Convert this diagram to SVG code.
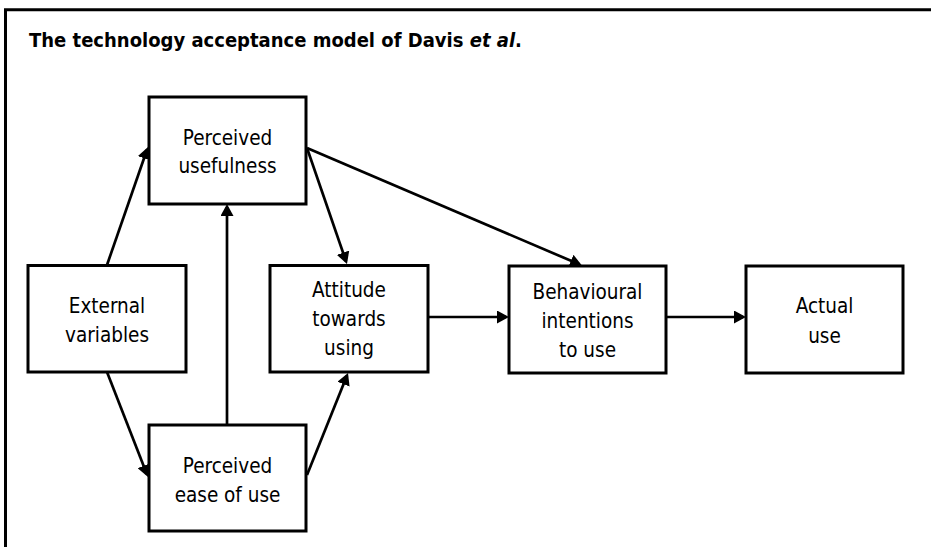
<svg xmlns="http://www.w3.org/2000/svg" width="931" height="547" viewBox="0 0 931 547">
<style>
  .frame { fill: none; stroke: #000; stroke-width: 3; }
  .box { fill: #fff; stroke: #000; stroke-width: 3; }
  .lbl { font-family: 'DejaVu Sans Condensed', 'DejaVu Sans', sans-serif; font-stretch: condensed; font-size: 20.5px; fill: #000; text-anchor: middle; }
  .title { font-family: 'DejaVu Sans Condensed', 'DejaVu Sans', sans-serif; font-stretch: condensed; font-size: 20px; font-weight: bold; fill: #000; }
  .conn line { stroke: #000; stroke-width: 2.7; fill: none; marker-end: url(#arrow); }
</style>
<defs>
  <marker id="arrow" markerUnits="userSpaceOnUse" markerWidth="13" markerHeight="13" refX="9" refY="6.5" orient="auto">
    <path d="M0,0 L12,6.5 L0,13 z" fill="#000"/>
  </marker>
</defs>
<rect width="931" height="547" fill="#fff"/>
<path class="frame" d="M5.5,547 V9.7 H931"/>
<text class="title" x="29" y="47">The technology acceptance model of Davis <tspan font-style="italic">et al</tspan>.</text>

<g id="connectors" class="conn">
  <line x1="107" y1="265" x2="147" y2="149.8"/>
  <line x1="227" y1="425" x2="227" y2="207"/>
  <line x1="307" y1="148" x2="346" y2="261.2"/>
  <line x1="307" y1="148" x2="579.2" y2="264.3"/>
  <line x1="107" y1="372" x2="146.9" y2="474.2"/>
  <line x1="307" y1="475" x2="346.9" y2="375.8"/>
  <line x1="428" y1="317" x2="506" y2="317"/>
  <line x1="666" y1="317" x2="743" y2="317"/>
</g>

<g id="perceived-usefulness">
  <rect class="box" x="149" y="97" width="157" height="107"/>
  <text class="lbl" x="227.5" y="145">Perceived</text>
  <text class="lbl" x="227.5" y="173">usefulness</text>
</g>
<g id="external-variables">
  <rect class="box" x="28" y="265.5" width="158" height="106.5"/>
  <text class="lbl" x="107" y="313">External</text>
  <text class="lbl" x="107" y="342">variables</text>
</g>
<g id="attitude">
  <rect class="box" x="270" y="265.5" width="158" height="106.5"/>
  <text class="lbl" x="349" y="297">Attitude</text>
  <text class="lbl" x="349" y="326">towards</text>
  <text class="lbl" x="349" y="355">using</text>
</g>
<g id="behavioural-intentions">
  <rect class="box" x="509" y="266" width="157" height="107"/>
  <text class="lbl" x="587.5" y="299">Behavioural</text>
  <text class="lbl" x="587.5" y="328">intentions</text>
  <text class="lbl" x="587.5" y="357">to use</text>
</g>
<g id="actual-use">
  <rect class="box" x="746" y="266" width="157" height="107"/>
  <text class="lbl" x="824.5" y="313">Actual</text>
  <text class="lbl" x="824.5" y="343">use</text>
</g>
<g id="perceived-ease">
  <rect class="box" x="149" y="425" width="157" height="106"/>
  <text class="lbl" x="227.5" y="473">Perceived</text>
  <text class="lbl" x="227.5" y="502">ease of use</text>
</g>
</svg>
